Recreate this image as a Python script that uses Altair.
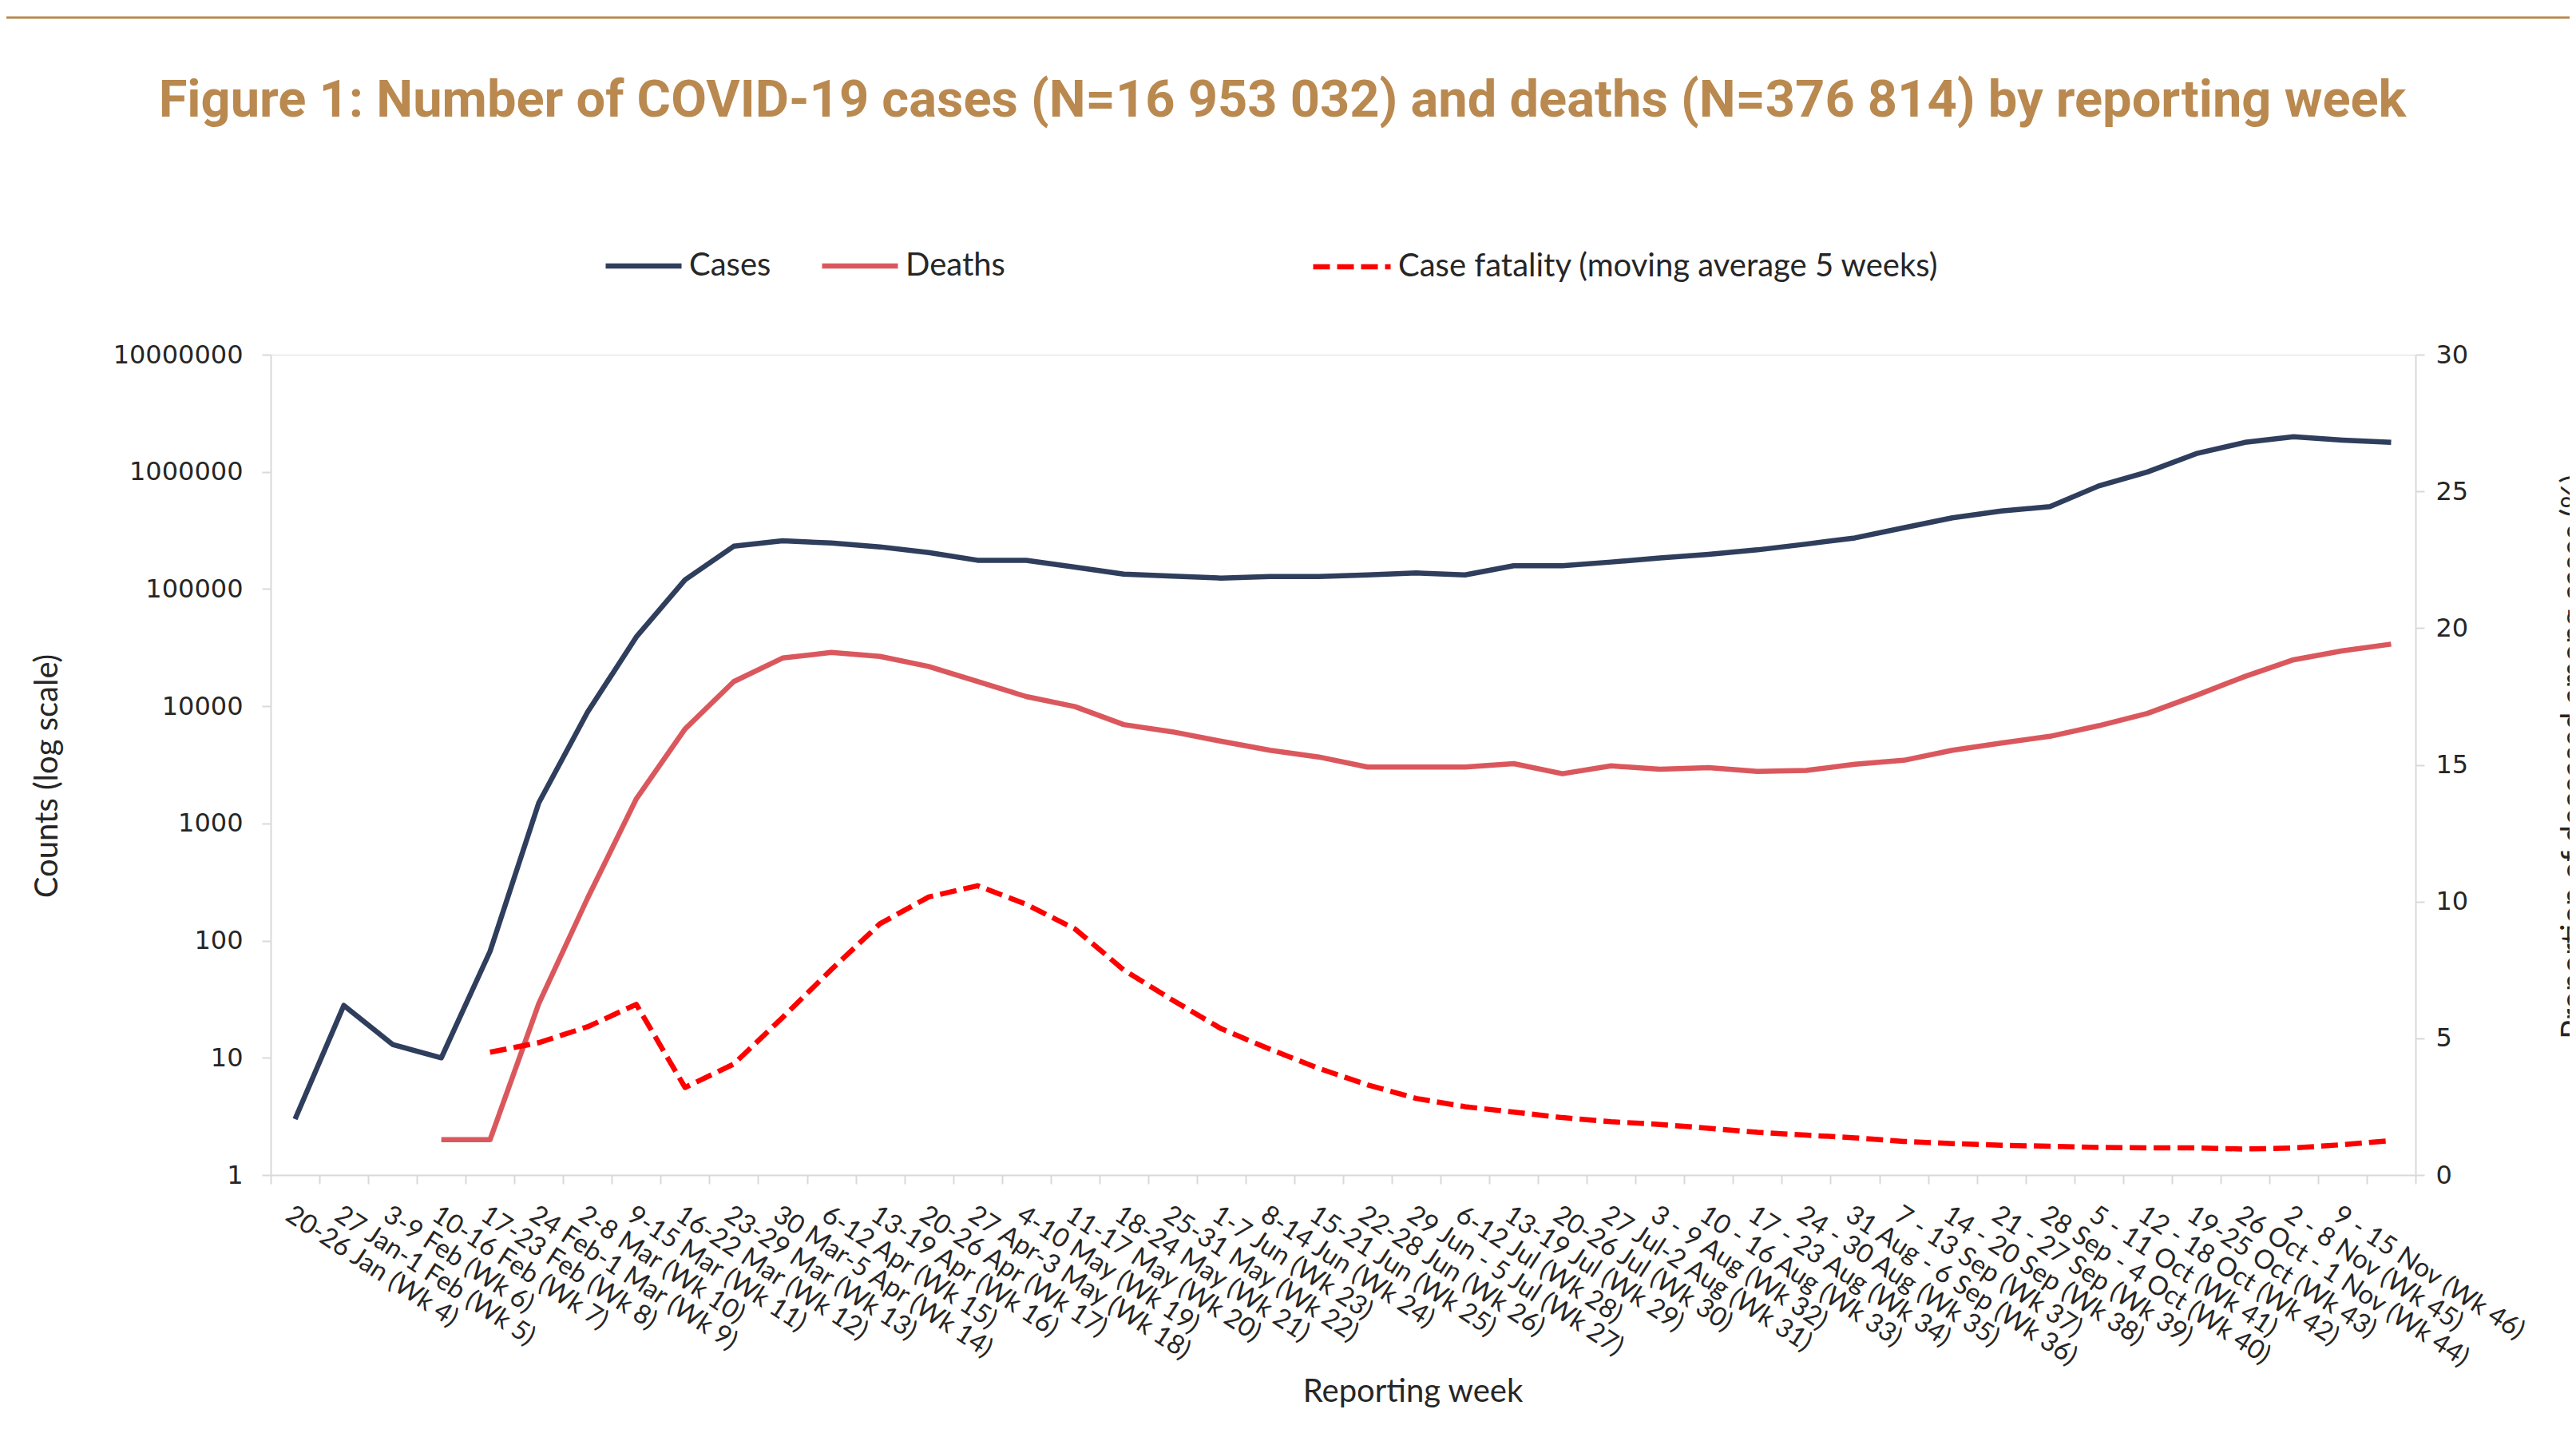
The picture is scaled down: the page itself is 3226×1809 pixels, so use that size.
import altair as alt
import pandas as pd

title_text = "Figure 1: Number of COVID-19 cases (N=16 953 032) and deaths (N=376 814) by reporting week"

week_labels = [
    "20-26 Jan (Wk 4)", "27 Jan-1 Feb (Wk 5)", "3-9 Feb (Wk 6)", "10-16 Feb (Wk 7)",
    "17-23 Feb (Wk 8)", "24 Feb-1 Mar (Wk 9)", "2-8 Mar (Wk 10)", "9-15 Mar (Wk 11)",
    "16-22 Mar (Wk 12)", "23-29 Mar (Wk 13)", "30 Mar-5 Apr (Wk 14)", "6-12 Apr (Wk 15)",
    "13-19 Apr (Wk 16)", "20-26 Apr (Wk 17)", "27 Apr-3 May (Wk 18)", "4-10 May (Wk 19)",
    "11-17 May (Wk 20)", "18-24 May (Wk 21)", "25-31 May (Wk 22)", "1-7 Jun (Wk 23)",
    "8-14 Jun (Wk 24)", "15-21 Jun (Wk 25)", "22-28 Jun (Wk 26)", "29 Jun - 5 Jul (Wk 27)",
    "6-12 Jul (Wk 28)", "13-19 Jul (Wk 29)", "20-26 Jul (Wk 30)", "27 Jul-2 Aug (Wk 31)",
    "3 - 9 Aug (Wk 32)", "10 - 16 Aug (Wk 33)", "17 - 23 Aug (Wk 34)", "24 - 30 Aug (Wk 35)",
    "31 Aug - 6 Sep (Wk 36)", "7 - 13 Sep (Wk 37)", "14 - 20 Sep (Wk 38)", "21 - 27 Sep (Wk 39)",
    "28 Sep - 4 Oct (Wk 40)", "5 - 11 Oct (Wk 41)", "12 - 18 Oct (Wk 42)", "19-25 Oct (Wk 43)",
    "26 Oct - 1 Nov (Wk 44)", "2 - 8 Nov (Wk 45)", "9 - 15 Nov (Wk 46)", "",
]

cases = [3, 28, 13, 10, 81, 1500, 8900, 39000, 120000, 232000, 258000, 247000,
         229000, 205000, 176000, 176000, 154000, 134000, 129000, 124000, 128000,
         128000, 132000, 137000, 132000, 158000, 158000, 170000, 184000, 198000,
         216000, 242000, 273000, 333000, 405000, 463000, 505000, 758000, 998000,
         1430000, 1785000, 1992000, 1866000, 1785000]

deaths = [None, None, None, 2, 2, 29, 230, 1620, 6390, 16250, 25770, 28770,
          26630, 21860, 16250, 12100, 9920, 6970, 6050, 5020, 4210, 3690, 3030,
          3030, 3030, 3235, 2655, 3097, 2900, 2995, 2775, 2836, 3200, 3455, 4210,
          4856, 5537, 6820, 8690, 12360, 17950, 24930, 29720, 33900]

case_fatality = [None, None, None, None, 4.49, 4.84, 5.42, 6.24, 3.20, 4.06, 5.76,
                 7.51, 9.19, 10.17, 10.58, 9.9, 9.0, 7.5, 6.4, 5.35, 4.6, 3.9, 3.3,
                 2.8, 2.5, 2.3, 2.1, 1.95, 1.85, 1.71, 1.56, 1.46, 1.36, 1.23, 1.15,
                 1.09, 1.05, 1.01, 0.99, 0.99, 0.95, 0.99, 1.11, 1.26]

series_names = ["Cases", "Deaths"]
series_colors = ["#2F3E5C", "#DA585D"]
cf_name = "Case fatality (moving average 5 weeks)"
cf_color = "#FF0000"
brown = "#B9894F"
text_color = "#262626"
axis_gray = "#D9D9D9"

wide = pd.DataFrame({"week": week_labels, "Cases": cases, "Deaths": deaths})
counts = wide.melt(id_vars="week", var_name="series", value_name="value").dropna()
cf_df = pd.DataFrame({"week": week_labels, "cf": case_fatality}).dropna()
cf_df["measure"] = cf_name
one_row = pd.DataFrame({"k": [0]})

x_enc = alt.X(
    "week:O",
    bandPosition=0.5,
    scale=alt.Scale(type="band", domain=week_labels, paddingInner=0, paddingOuter=0),
    axis=alt.Axis(
        title="Reporting week", labelAngle=33, labelAlign="left", labelBaseline="top",
        labelPadding=22, labelLimit=0, labelOverlap=False, tickBand="extent",
        tickSize=11, tickWidth=2, tickColor=axis_gray, domainColor=axis_gray,
        domainWidth=2, labelFont="Lato", labelFontSize=33, labelColor=text_color,
        titleFont="Lato", titleFontSize=40, titleFontWeight="normal",
        titleColor=text_color, titleX=1430, titleY=271, titleAlign="center",
        titleBaseline="middle", grid=False,
    ),
)

counts_layer = alt.Chart(counts).mark_line(strokeWidth=6.5, strokeJoin="round").encode(
    x=x_enc,
    y=alt.Y(
        "value:Q",
        scale=alt.Scale(type="log", domain=[1, 10000000], nice=False),
        axis=alt.Axis(
            orient="left", title="Counts (log scale)",
            values=[1, 10, 100, 1000, 10000, 100000, 1000000, 10000000], format="d",
            grid=False, tickSize=11, tickWidth=2, tickColor=axis_gray,
            domainColor=axis_gray, domainWidth=2, labelFont="DejaVu Sans",
            labelFontSize=32, labelColor=text_color, labelPadding=24,
            titleFont="Lato", titleFontSize=40, titleFontWeight="normal",
            titleColor=text_color, titleAngle=270, titleX=-280, titleY=527,
            titleAlign="center", titleBaseline="middle",
        ),
    ),
    color=alt.Color(
        "series:N",
        scale=alt.Scale(domain=series_names, range=series_colors),
        legend=alt.Legend(
            title=None, orient="none", legendX=416, legendY=-162,
            direction="horizontal", symbolType="stroke", symbolSize=9025,
            symbolStrokeWidth=6.5, labelFont="Lato", labelFontSize=40,
            labelColor=text_color, labelOffset=6, columnPadding=50, padding=0,
            labelLimit=1000,
        ),
    ),
)

cf_layer = alt.Chart(cf_df).mark_line(
    strokeWidth=6.5, color=cf_color, strokeCap="butt", strokeJoin="round"
).encode(
    x=x_enc,
    y=alt.Y(
        "cf:Q",
        scale=alt.Scale(domain=[0, 30], nice=False),
        axis=alt.Axis(
            orient="right", title="Proportion of deceased among cases (%)",
            values=[0, 5, 10, 15, 20, 25, 30], grid=False, tickSize=11, tickWidth=2,
            tickColor=axis_gray, domainColor=axis_gray, domainWidth=2,
            labelFont="DejaVu Sans", labelFontSize=32, labelColor=text_color,
            labelPadding=14, titleFont="Lato", titleFontSize=40,
            titleFontWeight="normal", titleColor=text_color, titleAngle=270,
            titleX=178, titleY=503, titleAlign="center", titleBaseline="top",
        ),
    ),
    strokeDash=alt.StrokeDash(
        "measure:N",
        scale=alt.Scale(domain=[cf_name], range=[[21, 9]]),
        legend=alt.Legend(
            title=None, orient="none", legendX=1302, legendY=-162,
            symbolType="stroke", symbolSize=9409, symbolStrokeWidth=6.5,
            symbolStrokeColor=cf_color, labelFont="Lato", labelFontSize=40,
            labelColor=text_color, labelOffset=6, padding=0, labelLimit=1000,
        ),
    ),
)

top_rule = alt.Chart(one_row).mark_rule(color=brown, strokeWidth=3).encode(
    x=alt.value(-331), x2=alt.value(2879), y=alt.value(-422)
)

title_mark = alt.Chart(one_row).mark_text(
    text=title_text, font="Roboto", fontWeight="bold", fontSize=65, color=brown,
    align="center", baseline="alphabetic",
).encode(x=alt.value(1267), y=alt.value(-298))

chart = alt.layer(top_rule, title_mark, counts_layer, cf_layer).resolve_scale(
    y="independent"
).properties(
    width=2686, height=1027,
    autosize=alt.AutoSizeParams(type="none"),
    padding={"left": 331, "top": 436, "right": 193, "bottom": 330},
).configure_view(strokeWidth=0).configure(background="white")

chart.save("out.html", embed_options={"renderer": "svg", "actions": False})
